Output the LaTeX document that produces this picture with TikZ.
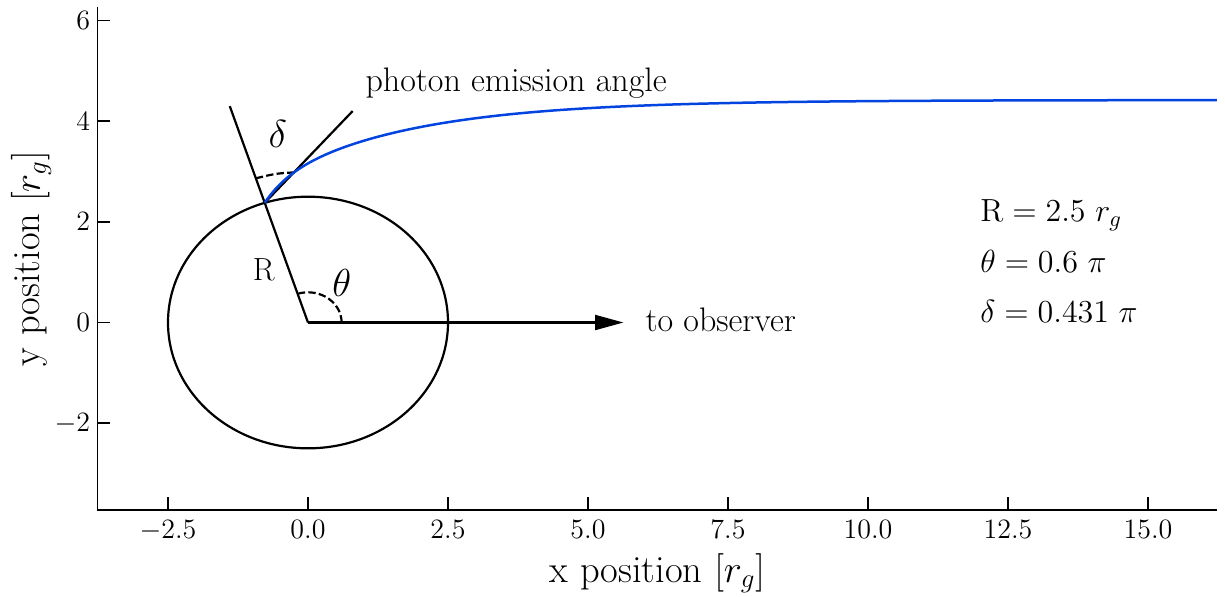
\RequirePackage{fix-cm}
\documentclass[tikz,border=0pt]{standalone}
\definecolor{curveblue}{RGB}{3,67,223}
\begin{document}
\begin{tikzpicture}[x=28pt,y=25.165pt,
  spine/.style={line width=0.7pt, black},
  obj/.style={line width=1.1pt, black},
  dashedarc/.style={line width=1.1pt, black, dash pattern=on 3.7pt off 1.6pt},
  ticklab/.style={inner sep=0pt, font=\fontsize{14}{16}\selectfont},
  axlab/.style={inner sep=0pt, font=\fontsize{19.25}{22}\selectfont},
  annot/.style={inner sep=0pt, font=\fontsize{17}{20}\selectfont},
  biglab/.style={inner sep=0pt, font=\fontsize{19.5}{22}\selectfont},
  infolab/.style={inner sep=0pt, font=\fontsize{16}{19}\selectfont, anchor=base west},
  photon/.style={line width=1.25pt, curveblue}]
\useasboundingbox (-5.5,-5.434) rectangle (16.375,6.408);
% axes
\coordinate (TL) at (-3.759,6.27);
\coordinate (BL) at (-3.759,-3.725);
\coordinate (BR) at (16.23,-3.725);
\draw[spine] (TL) -- (BL) -- (BR);
\foreach \v/\l [count=\i] in {-2.5/$-2.5$,0/$0.0$,2.5/$2.5$,5/$5.0$,7.5/$7.5$,10/$10.0$,12.5/$12.5$,15/$15.0$}{
  \coordinate (xt\i) at (\v,-3.725);
  \draw[spine] (xt\i) -- ++(0,6.5pt);
  \node[ticklab, anchor=north] (xl\i) at ([yshift=-5pt]xt\i) {\l};
}
\foreach \v/\l [count=\i] in {-2/$-2$,0/$0$,2/$2$,4/$4$,6/$6$}{
  \coordinate (yt\i) at (-3.759,\v);
  \draw[spine] (yt\i) -- ++(6.5pt,0);
  \node[ticklab, anchor=east] (yl\i) at ([xshift=-3.5pt]yt\i) {\l};
}
\node[axlab, anchor=base] (xlabel) at (6.241,-5.156) {x position $[r_g]$};
\node[axlab, anchor=base, rotate=90] (ylabel) at (-4.786,1.272) {y position $[r_g]$};
% geometry
\coordinate (O) at (0,0);
\coordinate (E) at (-0.7725,2.3776);
\coordinate (Rend) at (-1.397,4.299);
\coordinate (Pend) at (0.798,4.202);
\draw[obj] (O) ellipse [x radius=70pt, y radius=62.91pt];
\draw[obj] (O) -- (Rend);
\draw[obj] (E) -- (Pend);
\coordinate (Abase) at (5.125,0);
\coordinate (Atip) at (5.63,0);
\draw[obj] (O) -- (Abase);
\fill[black] (5.125,0.155) -- (Atip) -- (5.125,-0.155) -- cycle;
\draw[dashedarc] (0.6,0) arc[start angle=0, end angle=108, x radius=16.8pt, y radius=15.1pt];
\draw[dashedarc] (-0.931,2.865) .. controls (-0.58,2.96) .. (-0.232,2.984);
% photon trajectory
\draw[photon] plot[domain=-0.7725:16.23, samples=220, smooth]
  (\x, {4.42 - 0.805*exp(-0.4*(\x-0.99)) - 0.412*exp(-2.43*(\x+0.7725))});
% labels
\node[annot, anchor=base west] (phlab) at (1.02,4.59) {photon emission angle};
\node[annot, anchor=base west] (obslab) at (6.02,-0.18) {to observer};
\node[biglab] (dlab) at (-0.541,3.752) {$\delta$};
\node[biglab] (tlab) at (0.604,0.795) {$\theta$};
\node[annot, font=\fontsize{16}{19}\selectfont] (rlab) at (-0.789,1.037) {R};
\node[infolab] (i1) at (12.0,2) {$\mathrm{R} = 2.5\ r_g$};
\node[infolab] (i2) at (12.0,1) {$\theta = 0.6\ \pi$};
\node[infolab] (i3) at (12.0,0) {$\delta = 0.431\ \pi$};
\end{tikzpicture}
\end{document}
